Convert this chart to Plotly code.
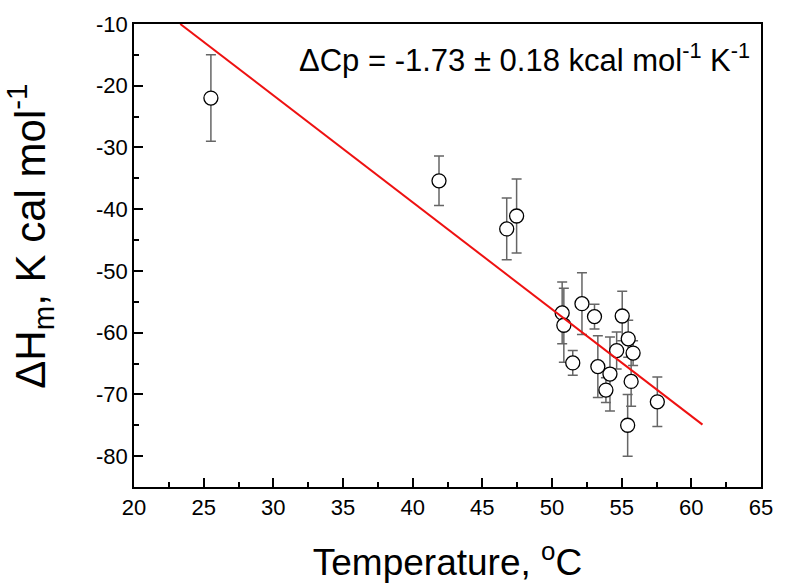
import plotly.graph_objects as go

# Data
temperature = [25.52, 41.89, 46.75, 47.46, 50.73, 50.85, 52.15, 53.05, 55.04, 51.49,
               54.64, 55.47, 55.82, 53.29, 54.16, 53.87, 55.68, 57.56, 55.43]
delta_h = [-22.0, -35.4, -43.2, -41.1, -56.8, -58.8, -55.3, -57.4, -57.3, -64.9,
           -62.9, -61.0, -63.3, -65.5, -66.7, -69.3, -67.9, -71.2, -75.0]
delta_h_err = [7, 4, 5, 6, 5, 6, 5, 2, 4, 2, 3, 3, 2, 5, 6, 2, 4, 4, 5]

fit_x = [23.32, 60.8]
fit_y = [-10.0, -74.9]

x_ticks = [20, 25, 30, 35, 40, 45, 50, 55, 60, 65]
y_ticks = [-80, -70, -60, -50, -40, -30, -20, -10]

FONT = "Liberation Sans, Arial, sans-serif"

fig = go.Figure()

fig.add_trace(go.Scatter(
    x=temperature, y=delta_h, mode="markers",
    error_y=dict(type="data", array=delta_h_err, visible=True,
                 color="#666666", thickness=1.5, width=5),
    marker=dict(symbol="circle", size=14, color="white",
                line=dict(color="black", width=1.3)),
    showlegend=False,
))

fig.add_trace(go.Scatter(
    x=fit_x, y=fit_y, mode="lines",
    line=dict(color="#ee1111", width=2),
    showlegend=False,
))

axis_common = dict(
    showgrid=False, zeroline=False,
    showline=True, linecolor="black", linewidth=1.5, mirror=True,
    ticks="inside", ticklen=9, tickwidth=1.5, tickcolor="black",
    tickfont=dict(family=FONT, size=22, color="black"),
)

fig.update_xaxes(
    range=[20, 65], tickvals=x_ticks, ticktext=[str(v) for v in x_ticks],
    minor=dict(ticks="inside", ticklen=5, tickwidth=1.5, tickcolor="black", dtick=2.5, tick0=20),
    title=dict(text="Temperature, <sup>o</sup>C",
               font=dict(family=FONT, size=37, color="black"), standoff=30),
    **axis_common,
)
fig.update_yaxes(
    range=[-85, -10], tickvals=y_ticks, ticktext=[str(v) for v in y_ticks],
    minor=dict(ticks="inside", ticklen=5, tickwidth=1.5, tickcolor="black", dtick=5, tick0=-85),
    **axis_common,
)

# y-axis title as a rotated annotation for precise placement
fig.add_annotation(
    text="ΔH<sub>m</sub>, K cal mol<sup>-1</sup>",
    xref="paper", yref="paper", x=-0.166, y=0.5426,
    xanchor="center", yanchor="middle", textangle=-90, showarrow=False,
    font=dict(family=FONT, size=42, color="black"),
)

fig.add_annotation(
    text="ΔCp = -1.73 ± 0.18 kcal mol<sup>-1</sup> K<sup>-1</sup>",
    xref="paper", yref="paper", x=0.985, y=0.927,
    xanchor="right", yanchor="middle", showarrow=False,
    font=dict(family=FONT, size=31, color="black"),
)

fig.update_layout(
    width=785, height=588,
    margin=dict(l=134, r=18, t=23, b=100),
    plot_bgcolor="white", paper_bgcolor="white",
)

fig.write_html("out.html")
